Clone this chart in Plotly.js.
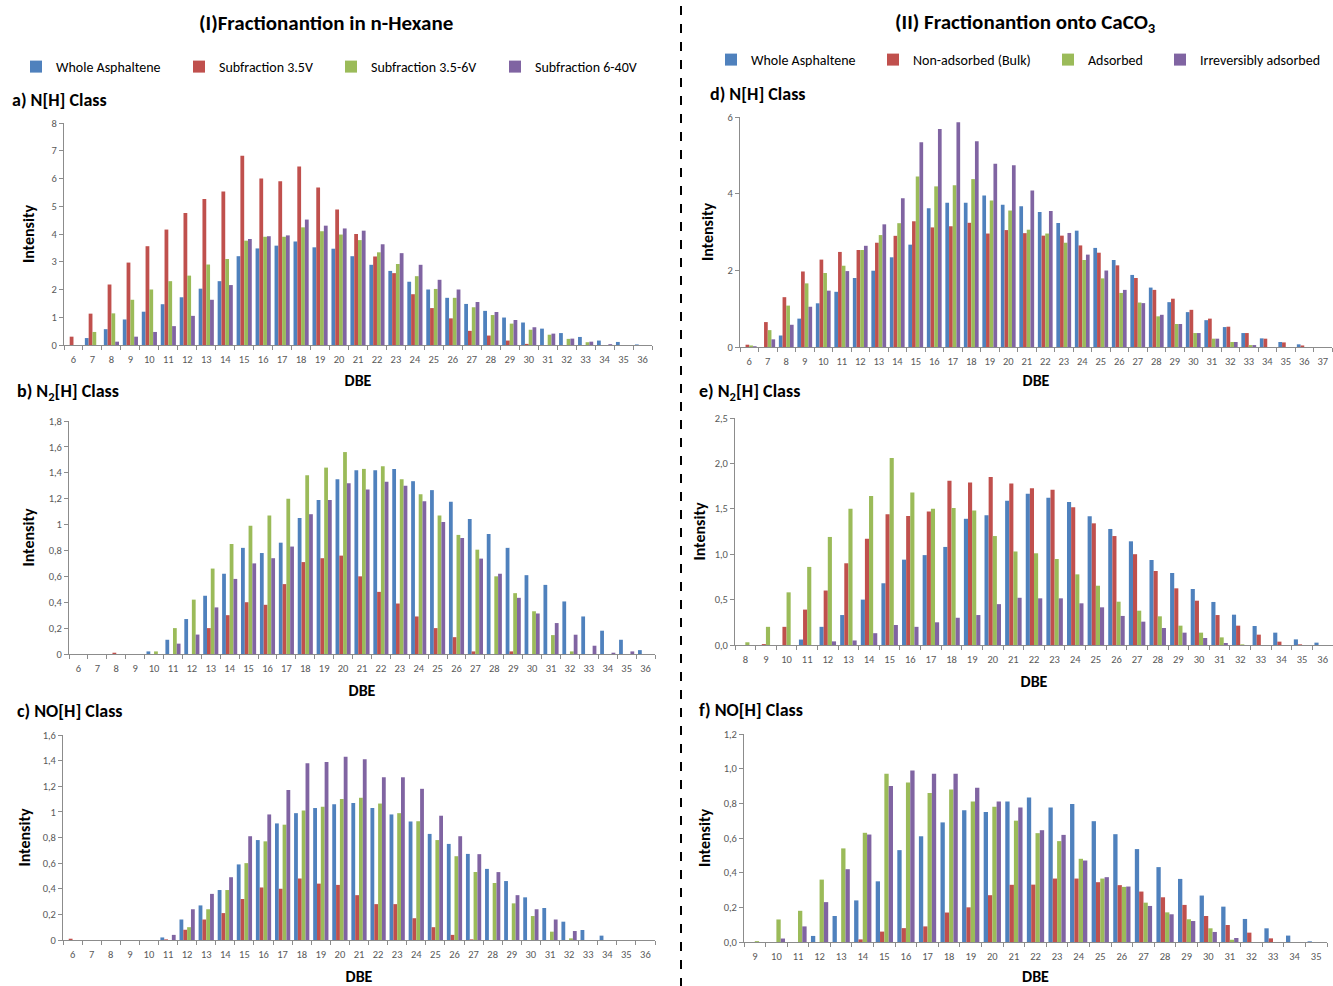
<!DOCTYPE html>
<html><head><meta charset="utf-8">
<script src="https://cdn.plot.ly/plotly-3.0.1.min.js"></script>
<style>html,body{margin:0;padding:0;background:#fff}</style>
</head><body>
<div id="chart" style="width:1333px;height:986px"></div>
<script>
// ---------- categories (DBE) ----------
const catA = ['6','7','8','9','10','11','12','13','14','15','16','17','18','19','20','21','22','23','24','25','26','27','28','29','30','31','32','33','34','35','36'];
const catD = ['6','7','8','9','10','11','12','13','14','15','16','17','18','19','20','21','22','23','24','25','26','27','28','29','30','31','32','33','34','35','36','37'];
const catE = ['8','9','10','11','12','13','14','15','16','17','18','19','20','21','22','23','24','25','26','27','28','29','30','31','32','33','34','35','36'];
const catF = ['9','10','11','12','13','14','15','16','17','18','19','20','21','22','23','24','25','26','27','28','29','30','31','32','33','34','35'];

// ---------- series names ----------
const namesLeft = ['Whole Asphaltene','Subfraction 3.5V','Subfraction 3.5-6V','Subfraction 6-40V'];
const namesRight = ['Whole Asphaltene','Non-adsorbed (Bulk)','Adsorbed','Irreversibly adsorbed'];

// ---------- a) N[H] Class, n-Hexane ----------
const aWhole  = [0,0.25,0.57,0.92,1.2,1.47,1.72,2.03,2.3,3.2,3.48,3.58,3.73,3.52,3.47,3.2,2.89,2.67,2.28,2.0,1.7,1.48,1.23,0.99,0.81,0.59,0.43,0.29,0.16,0.11,0.02];
const aSub35  = [0.3,1.13,2.18,2.97,3.56,4.16,4.76,5.26,5.53,6.82,6.0,5.9,6.43,5.68,4.88,4.0,3.19,2.59,1.83,1.33,0.96,0.51,0.34,0.16,0.04,0,0,0,0,0,0];
const aSub356 = [0,0.47,1.14,1.63,2.0,2.3,2.5,2.9,3.1,3.76,3.9,3.9,4.24,4.1,3.98,3.78,3.34,2.92,2.48,2.02,1.7,1.36,1.08,0.77,0.55,0.37,0.22,0.1,0,0,0];
const aSub640 = [0,0,0.12,0.3,0.47,0.68,1.05,1.63,2.16,3.82,3.92,3.95,4.52,4.3,4.2,4.12,3.63,3.31,2.89,2.35,2.0,1.55,1.19,0.9,0.64,0.41,0.23,0.12,0.03,0,0];

// ---------- b) N2[H] Class, n-Hexane ----------
const bWhole  = [0,0,0,0,0.02,0.11,0.27,0.45,0.62,0.82,0.78,0.86,1.05,1.19,1.35,1.42,1.42,1.43,1.335,1.266,1.176,1.043,0.927,0.82,0.609,0.534,0.406,0.29,0.18,0.11,0.03];
const bSub35  = [0,0,0.01,0,0,0,0,0.2,0.3,0.4,0.38,0.54,0.71,0.74,0.76,0.6,0.48,0.39,0.29,0.2,0.13,0.02,0,0.02,0,0,0,0,0,0,0];
const bSub356 = [0,0,0,0,0.02,0.2,0.42,0.66,0.85,0.99,1.07,1.2,1.38,1.44,1.56,1.43,1.45,1.35,1.235,1.07,0.92,0.806,0.6,0.47,0.33,0.146,0.02,0,0,0,0];
const bSub640 = [0,0,0,0,0,0.08,0.15,0.36,0.58,0.7,0.74,0.83,1.08,1.19,1.32,1.27,1.33,1.3,1.18,1.02,0.896,0.737,0.62,0.434,0.313,0.239,0.149,0.064,0.01,0.02,0];

// ---------- c) NO[H] Class, n-Hexane ----------
const cWhole  = [0,0,0,0,0,0.02,0.16,0.27,0.39,0.59,0.78,0.91,0.99,1.03,1.06,1.07,1.03,0.98,0.925,0.828,0.75,0.672,0.555,0.46,0.333,0.25,0.143,0.078,0.034,0,0];
const cSub35  = [0.01,0,0,0,0,0.005,0.08,0.16,0.21,0.32,0.41,0.4,0.48,0.44,0.43,0.35,0.28,0.28,0.17,0.1,0.04,0.005,0,0,0,0,0,0,0,0,0];
const cSub356 = [0,0,0,0,0,0,0.1,0.24,0.39,0.6,0.77,0.9,1.01,1.04,1.1,1.11,1.065,0.99,0.927,0.78,0.654,0.531,0.445,0.286,0.187,0.065,0.013,0,0,0,0];
const cSub640 = [0,0,0,0,0,0.04,0.24,0.36,0.49,0.81,0.98,1.17,1.38,1.39,1.43,1.41,1.27,1.27,1.18,0.97,0.81,0.67,0.53,0.35,0.24,0.16,0.07,0,0,0,0];

// ---------- d) N[H] Class, CaCO3 ----------
const dWhole  = [0,0,0.3,0.74,1.14,1.44,1.8,1.99,2.34,2.67,3.62,3.76,3.76,3.95,3.71,3.67,3.52,3.235,3.035,2.585,2.27,1.88,1.55,1.17,0.91,0.7,0.52,0.364,0.225,0.13,0.07,0];
const dNonAds = [0.06,0.65,1.3,1.97,2.28,2.48,2.53,2.72,2.9,3.28,3.12,3.15,3.24,2.96,3.05,2.97,2.905,2.905,2.65,2.46,2.13,1.8,1.49,1.26,0.97,0.74,0.53,0.364,0.217,0.12,0.04,0];
const dAds    = [0.04,0.44,1.08,1.66,1.93,2.12,2.53,2.92,3.23,4.45,4.19,4.22,4.38,3.82,3.56,3.06,2.96,2.72,2.27,1.79,1.41,1.16,0.8,0.6,0.364,0.217,0.13,0.05,0,0,0,0];
const dIrrev  = [0.02,0.2,0.58,1.05,1.47,1.98,2.64,3.2,3.88,5.34,5.69,5.86,5.37,4.78,4.74,4.085,3.55,2.975,2.41,1.995,1.49,1.145,0.84,0.6,0.364,0.217,0.13,0.05,0,0,0,0];

// ---------- e) N2[H] Class, CaCO3 ----------
const eWhole  = [0,0,0,0.06,0.2,0.33,0.5,0.68,0.94,0.99,1.08,1.39,1.43,1.59,1.667,1.623,1.575,1.417,1.278,1.142,0.936,0.793,0.617,0.474,0.334,0.209,0.136,0.062,0.026];
const eNonAds = [0,0.01,0.2,0.39,0.6,0.9,1.17,1.44,1.42,1.47,1.81,1.79,1.85,1.78,1.725,1.71,1.516,1.34,1.2,1.0,0.815,0.624,0.488,0.33,0.213,0.114,0.037,0.007,0];
const eAds    = [0.03,0.2,0.58,0.86,1.19,1.5,1.64,2.06,1.68,1.5,1.51,1.48,1.2,1.03,1.01,0.947,0.778,0.653,0.477,0.378,0.316,0.213,0.136,0.084,0.007,0,0,0,0];
const eIrrev  = [0,0,0,0,0.04,0.05,0.13,0.22,0.2,0.25,0.3,0.33,0.45,0.52,0.514,0.514,0.459,0.415,0.32,0.257,0.187,0.136,0.077,0.022,0,0,0,0,0];

// ---------- f) NO[H] Class, CaCO3 ----------
const fWhole  = [0,0,0,0.035,0.15,0.24,0.35,0.53,0.61,0.69,0.76,0.75,0.81,0.834,0.776,0.796,0.697,0.622,0.536,0.432,0.364,0.268,0.204,0.133,0.079,0.037,0.004];
const fNonAds = [0,0,0,0,0,0.015,0.06,0.08,0.09,0.17,0.2,0.27,0.33,0.331,0.366,0.366,0.345,0.328,0.291,0.258,0.214,0.15,0.098,0.054,0.021,0,0];
const fAds    = [0.005,0.13,0.18,0.36,0.54,0.63,0.97,0.92,0.86,0.88,0.81,0.78,0.7,0.628,0.582,0.48,0.366,0.318,0.227,0.171,0.131,0.079,0.013,0,0,0,0];
const fIrrev  = [0,0.02,0.09,0.23,0.42,0.62,0.9,0.99,0.97,0.97,0.89,0.81,0.776,0.645,0.618,0.47,0.374,0.32,0.208,0.16,0.121,0.058,0.023,0,0,0,0];

// ---------- styling ----------
const W = 1333, H = 986;
const px = x => x / W;
const py = y => 1 - y / H;
const COLORS = ['#4F81BD', '#C0504D', '#9BBB59', '#8064A2'];
const FONT = 'Carlito, "Liberation Sans Narrow", "Open Sans", sans-serif';
const TICKCOLOR = '#595959';
const AXCOLOR = '#8c8c8c';

// one single-item legend per series so that each key sits where the reference puts it
const LEFT_LEG  = ['legend', 'legend2', 'legend3', 'legend4'];
const RIGHT_LEG = ['legend5', 'legend6', 'legend7', 'legend8'];
const leftTextX  = [56, 219, 371, 535];
const rightTextX = [751, 913, 1088, 1200];

const panels = [
  {ax:'',  cats:catA, vals:[aWhole,aSub35,aSub356,aSub640], names:namesLeft,  leg:LEFT_LEG,  show:true},
  {ax:'2', cats:catA, vals:[bWhole,bSub35,bSub356,bSub640], names:namesLeft,  leg:LEFT_LEG,  show:false},
  {ax:'3', cats:catA, vals:[cWhole,cSub35,cSub356,cSub640], names:namesLeft,  leg:LEFT_LEG,  show:false},
  {ax:'4', cats:catD, vals:[dWhole,dNonAds,dAds,dIrrev],    names:namesRight, leg:RIGHT_LEG, show:true},
  {ax:'5', cats:catE, vals:[eWhole,eNonAds,eAds,eIrrev],    names:namesRight, leg:RIGHT_LEG, show:false},
  {ax:'6', cats:catF, vals:[fWhole,fNonAds,fAds,fIrrev],    names:namesRight, leg:RIGHT_LEG, show:false}
];

const data = [];
panels.forEach(p => {
  p.vals.forEach((v, i) => {
    data.push({
      type: 'bar', x: p.cats, y: v, name: p.names[i],
      xaxis: 'x' + p.ax, yaxis: 'y' + p.ax,
      marker: {color: COLORS[i], line: {width: 0}},
      legend: p.leg[i], showlegend: p.show, legendgroup: p.leg[i],
      hoverinfo: 'x+y+name'
    });
  });
});

function xax(domain, anchor, standoff) {
  return {
    domain: domain, anchor: anchor, type: 'category',
    showline: true, linecolor: AXCOLOR, linewidth: 1,
    ticks: 'outside', tickson: 'boundaries', ticklen: 4, tickcolor: AXCOLOR,
    ticklabelstandoff: 4,
    tickfont: {family: FONT, size: 10.5, color: TICKCOLOR},
    showgrid: false, zeroline: false, fixedrange: true, tickangle: 0,
    title: {text: 'DBE', font: {family: FONT, size: 16, color: '#000', weight: 'bold'}, standoff: standoff},
    automargin: false
  };
}
function yax(domain, anchor, range, dtick, fmt, standoff) {
  return {
    domain: domain, anchor: anchor, range: range, dtick: dtick, tick0: 0,
    tickformat: fmt,
    showline: true, linecolor: AXCOLOR, linewidth: 1,
    ticks: 'outside', ticklen: 4, tickcolor: AXCOLOR,
    tickfont: {family: FONT, size: 10.5, color: TICKCOLOR},
    showgrid: false, zeroline: false, fixedrange: true,
    title: {text: 'Intensity', font: {family: FONT, size: 16, color: '#000', weight: 'bold'}, standoff: standoff},
    automargin: false
  };
}
function legendAt(textX, yPix) {
  return {
    orientation: 'h', x: px(textX - 40), xanchor: 'left', y: py(yPix), yanchor: 'middle',
    font: {family: FONT, size: 14, color: '#000'}, bgcolor: 'rgba(0,0,0,0)',
    borderwidth: 0, itemclick: false, itemdoubleclick: false
  };
}
function label(text, x, y, size, anchor) {
  return {text: text, x: px(x), y: py(y), xref: 'paper', yref: 'paper',
          xanchor: anchor, yanchor: 'middle', showarrow: false,
          font: {family: FONT, size: size, weight: 'bold', color: '#000'}};
}

const layout = {
  width: W, height: H,
  margin: {l: 0, r: 0, t: 0, b: 0},
  paper_bgcolor: '#fff', plot_bgcolor: '#fff',
  separators: ',.',
  barmode: 'group', bargap: 0.2, bargroupgap: 0,
  font: {family: FONT, color: '#000'},
  xaxis:  xax([px(64), px(652)], 'y', 10),
  yaxis:  yax([py(345), py(123)], 'x', [0, 8], 1, '', 12),
  xaxis2: xax([px(69), px(655)], 'y2', 11),
  yaxis2: yax([py(654), py(421)], 'x2', [0, 1.8], 0.2, '', 10),
  xaxis3: xax([px(63), px(655)], 'y3', 12),
  yaxis3: yax([py(940), py(735)], 'x3', [0, 1.6], 0.2, '', 8),
  xaxis4: xax([px(740), px(1332)], 'y4', 8),
  yaxis4: yax([py(347), py(117)], 'x4', [0, 6], 2, '', 9),
  xaxis5: xax([px(735), px(1333)], 'y5', 11),
  yaxis5: yax([py(645), py(418)], 'x5', [0, 2.5], 0.5, '.1f', 5),
  xaxis6: xax([px(744), px(1327)], 'y6', 10),
  yaxis6: yax([py(942), py(734)], 'x6', [0, 1.2], 0.2, '.1f', 9),
  annotations: [
    label('(I)Fractionantion in n-Hexane', 326, 23, 21, 'center'),
    label('(II) Fractionantion onto CaCO<sub>3</sub>', 1025, 23, 21, 'center'),
    label('a) N[H] Class', 10, 100, 18, 'left'),
    label('b) N<sub>2</sub>[H] Class', 15, 392, 18, 'left'),
    label('c) NO[H] Class', 15, 711, 18, 'left'),
    label('d) N[H] Class', 708, 94, 18, 'left'),
    label('e) N<sub>2</sub>[H] Class', 697, 392, 18, 'left'),
    label('f) NO[H] Class', 697, 710, 18, 'left')
  ],
  shapes: [
    {type: 'line', xref: 'paper', yref: 'paper', x0: px(681), x1: px(681), y0: py(6), y1: 0,
     line: {color: '#000', width: 2, dash: 'dash'}}
  ]
};
LEFT_LEG.forEach((id, i) => { layout[id] = legendAt(leftTextX[i], 67); });
RIGHT_LEG.forEach((id, i) => { layout[id] = legendAt(rightTextX[i], 60); });

Plotly.newPlot('chart', data, layout, {displayModeBar: false, staticPlot: true});
</script>
</body></html>
